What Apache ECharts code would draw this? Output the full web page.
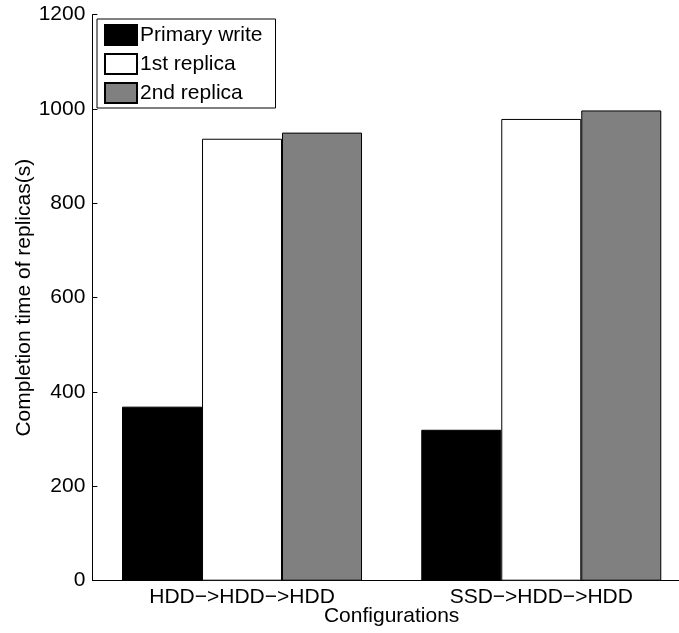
<!DOCTYPE html>
<html>
<head>
<meta charset="utf-8">
<script src="https://cdn.jsdelivr.net/npm/echarts@6/dist/echarts.min.js"></script>
<style>
  html, body { margin: 0; padding: 0; background: #fff; }
  #chart { width: 679px; height: 633px; }
</style>
</head>
<body>
<div id="chart"></div>
<script>
// Replica completion time per storage configuration
const categories = ['HDD\u2212>HDD\u2212>HDD', 'SSD\u2212>HDD\u2212>HDD'];
const seriesNames = ['Primary write', '1st replica', '2nd replica'];
const primaryWrite = [369, 320];
const firstReplica = [937, 979];
const secondReplica = [950, 997];
const yTicks = { min: 0, max: 1200, step: 200 };

const FONT = '"Liberation Sans", Arial, Helvetica, sans-serif';
const fills = ['#000000', '#ffffff', '#808080'];
const values = [primaryWrite, firstReplica, secondReplica];

const chart = echarts.init(document.getElementById('chart'), null, { renderer: 'canvas' });

chart.setOption({
  animation: false,
  backgroundColor: '#ffffff',
  textStyle: { fontFamily: FONT, color: '#000' },
  // the axis runs past the right edge of the canvas
  grid: { left: 92.4, width: 598.5, top: 14.7, height: 566, containLabel: false, outerBoundsMode: 'none' },
  legend: {
    orient: 'vertical',
    left: 97,
    top: 19,
    itemWidth: 32,
    itemHeight: 20,
    itemGap: 7,
    padding: [5, 13, 4, 7],
    borderColor: '#000',
    borderWidth: 1,
    backgroundColor: '#fff',
    icon: 'rect',
    textStyle: { fontFamily: FONT, fontSize: 21, color: '#000', lineHeight: 20, padding: [0, 0, 0, -2] },
    data: seriesNames
  },
  xAxis: {
    type: 'category',
    data: categories,
    name: 'Configurations',
    nameLocation: 'middle',
    nameGap: 25,
    nameMoveOverlap: false,
    nameTextStyle: { fontFamily: FONT, fontSize: 21, color: '#000' },
    axisLine: { lineStyle: { color: '#000', width: 1 } },
    axisTick: { alignWithLabel: true, inside: true, length: 5, lineStyle: { color: '#555' } },
    axisLabel: { fontFamily: FONT, fontSize: 21, color: '#000', margin: 6, interval: 0 },
    splitLine: { show: false }
  },
  yAxis: {
    type: 'value',
    min: yTicks.min,
    max: yTicks.max,
    interval: yTicks.step,
    name: 'Completion time of replicas(s)',
    nameLocation: 'middle',
    nameGap: 58,
    nameMoveOverlap: false,
    nameRotate: 90,
    nameTextStyle: { fontFamily: FONT, fontSize: 21, color: '#000' },
    axisLine: { show: true, lineStyle: { color: '#000', width: 1 } },
    axisTick: { show: true, inside: true, length: 5, lineStyle: { color: '#000' } },
    axisLabel: { fontFamily: FONT, fontSize: 21, color: '#000', margin: 7, formatter: v => String(v) },
    splitLine: { show: false }
  },
  series: seriesNames.map((name, i) => ({
    name: name,
    type: 'bar',
    data: values[i],
    barWidth: 80,
    barGap: '0%',
    itemStyle: { color: fills[i], borderColor: '#000', borderWidth: 1 },
    emphasis: { disabled: true }
  }))
});
</script>
</body>
</html>
